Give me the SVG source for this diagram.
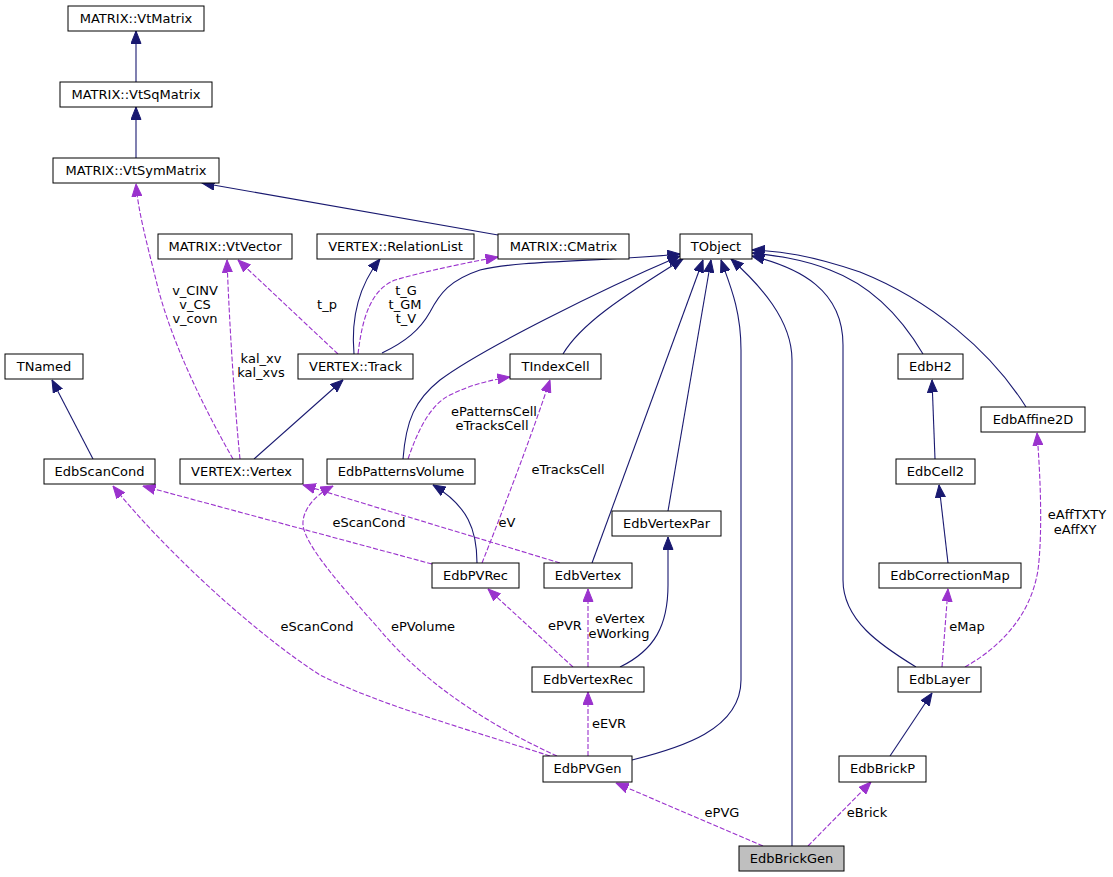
<svg xmlns="http://www.w3.org/2000/svg" width="1113" height="877" viewBox="0 0 1113 877">
<style>
  .node rect { fill: #ffffff; stroke: #000000; stroke-width: 1; }
  .node.cur rect { fill: #bfbfbf; }
  .node text, .lbl { font-family: "DejaVu Sans", "Liberation Sans", sans-serif; font-size: 13px; fill: #000000; text-anchor: middle; }
  .inh { fill: none; stroke: #191970; stroke-width: 1.1; marker-end: url(#ainh); }
  .use { fill: none; stroke: #9a32cd; stroke-width: 1.1; stroke-dasharray: 5,2; marker-end: url(#ause); }
</style>
<defs>
  <marker id="ainh" markerUnits="userSpaceOnUse" markerWidth="13" markerHeight="11" viewBox="0 0 13 11" refX="12.5" refY="5.5" orient="auto">
    <path d="M0,0.5 L12.5,5.5 L0,10.5 Z" fill="#191970" stroke="#191970" stroke-width="1"/>
  </marker>
  <marker id="ause" markerUnits="userSpaceOnUse" markerWidth="13" markerHeight="11" viewBox="0 0 13 11" refX="12.5" refY="5.5" orient="auto">
    <path d="M0,0.5 L12.5,5.5 L0,10.5 Z" fill="#9a32cd" stroke="#9a32cd" stroke-width="1"/>
  </marker>
</defs>
<rect x="0" y="0" width="1113" height="877" fill="#ffffff"/>

<g id="connectors">
  <path class="inh" d="M136,82 L136,31"/>
  <path class="inh" d="M136,158 L136,107"/>
  <path class="inh" d="M498,235 L202,183"/>
  <path class="inh" d="M354,354 C351,320 357,288 380,259"/>
  <path class="inh" d="M382,353 C405,342 420,330 430,312 C440,293 450,280 480,270 C520,260 600,262 680,254"/>
  <path class="use" d="M358,354 C362,320 370,290 395,280 C430,270 470,262 498,257"/>
  <path class="use" d="M338,354 L238,260"/>
  <path class="use" d="M233,459 C205,410 170,340 156,280 C146,240 138,210 136,184"/>
  <path class="use" d="M240,459 C236,420 230,340 227,260"/>
  <path class="inh" d="M254,459 L343,380"/>
  <path class="inh" d="M93,459 L52,380"/>
  <path class="inh" d="M403,459 C406,420 415,400 440,380 C480,350 600,290 680,256"/>
  <path class="use" d="M408,459 C418,430 430,405 450,395 C470,385 490,380 510,377"/>
  <path class="inh" d="M563,354 C580,325 620,298 683,259"/>
  <path class="inh" d="M477,563 C477,530 468,506 433,485"/>
  <path class="use" d="M482,563 C505,505 530,440 550,380"/>
  <path class="use" d="M432,564 L143,486"/>
  <path class="use" d="M560,563 L303,485"/>
  <path class="inh" d="M592,563 L703,260"/>
  <path class="inh" d="M668,511 L711,260"/>
  <path class="inh" d="M620,667 C655,650 668,625 668,585 L668,537"/>
  <path class="use" d="M573,667 L488,589"/>
  <path class="use" d="M588,667 L588,589"/>
  <path class="use" d="M588,756 L588,692"/>
  <path class="use" d="M550,756 C470,730 380,705 320,675 C250,630 160,545 113,486"/>
  <path class="use" d="M557,756 C500,730 430,690 380,630 C340,585 305,545 303,525 C302,510 315,495 333,486"/>
  <path class="inh" d="M632,760 C680,748 741,730 741,680 L741,350 C741,310 730,285 721,260"/>
  <path class="inh" d="M792,846 L792,360 C792,320 760,285 731,259"/>
  <path class="use" d="M763,846 L616,783"/>
  <path class="use" d="M808,846 L871,782"/>
  <path class="inh" d="M890,756 L932,693"/>
  <path class="inh" d="M916,667 C880,645 843,620 843,580 L843,345 C843,290 800,268 752,256"/>
  <path class="use" d="M942,667 L948,589"/>
  <path class="use" d="M965,667 C995,650 1030,620 1038,570 C1043,530 1040,470 1037,433"/>
  <path class="inh" d="M948,563 L939,485"/>
  <path class="inh" d="M935,459 L932,380"/>
  <path class="inh" d="M923,354 C900,315 870,285 830,270 C800,258 770,255 752,253"/>
  <path class="inh" d="M1026,407 C990,350 930,300 860,272 C810,255 780,251 752,250"/>

  <text class="lbl" x="195" y="295">v_CINV</text>
  <text class="lbl" x="195" y="309">v_CS</text>
  <text class="lbl" x="195" y="323">v_covn</text>
  <text class="lbl" x="327" y="309">t_p</text>
  <text class="lbl" x="406" y="295">t_G</text>
  <text class="lbl" x="405" y="309">t_GM</text>
  <text class="lbl" x="406" y="323">t_V</text>
  <text class="lbl" x="261" y="363">kal_xv</text>
  <text class="lbl" x="261" y="377">kal_xvs</text>
  <text class="lbl" x="494" y="416">ePatternsCell</text>
  <text class="lbl" x="492" y="430">eTracksCell</text>
  <text class="lbl" x="568" y="474">eTracksCell</text>
  <text class="lbl" x="369" y="527">eScanCond</text>
  <text class="lbl" x="507" y="527">eV</text>
  <text class="lbl" x="317" y="631">eScanCond</text>
  <text class="lbl" x="423" y="631">ePVolume</text>
  <text class="lbl" x="565" y="630">ePVR</text>
  <text class="lbl" x="620" y="623">eVertex</text>
  <text class="lbl" x="619" y="638">eWorking</text>
  <text class="lbl" x="609" y="728">eEVR</text>
  <text class="lbl" x="722" y="817">ePVG</text>
  <text class="lbl" x="867" y="817">eBrick</text>
  <text class="lbl" x="967" y="631">eMap</text>
  <text class="lbl" x="1077" y="519">eAffTXTY</text>
  <text class="lbl" x="1075" y="534">eAffXY</text>
</g>

<g id="MATRIX_VtMatrix" class="node"><rect x="68" y="6" width="136" height="25"/><text x="136" y="23">MATRIX::VtMatrix</text></g>
<g id="MATRIX_VtSqMatrix" class="node"><rect x="60" y="82" width="152" height="25"/><text x="136" y="99">MATRIX::VtSqMatrix</text></g>
<g id="MATRIX_VtSymMatrix" class="node"><rect x="53" y="158" width="166" height="25"/><text x="136" y="175">MATRIX::VtSymMatrix</text></g>
<g id="MATRIX_VtVector" class="node"><rect x="158" y="234" width="134" height="25"/><text x="225" y="251">MATRIX::VtVector</text></g>
<g id="VERTEX_RelationList" class="node"><rect x="317" y="234" width="157" height="25"/><text x="395.5" y="251">VERTEX::RelationList</text></g>
<g id="MATRIX_CMatrix" class="node"><rect x="498" y="234" width="131" height="25"/><text x="563.5" y="251">MATRIX::CMatrix</text></g>
<g id="TObject" class="node"><rect x="680" y="234" width="72" height="25"/><text x="716" y="251">TObject</text></g>
<g id="TNamed" class="node"><rect x="5" y="354" width="78" height="25"/><text x="44" y="371">TNamed</text></g>
<g id="VERTEX_Track" class="node"><rect x="298" y="354" width="115" height="25"/><text x="355.5" y="371">VERTEX::Track</text></g>
<g id="TIndexCell" class="node"><rect x="510" y="354" width="91" height="25"/><text x="555.5" y="371">TIndexCell</text></g>
<g id="EdbH2" class="node"><rect x="898" y="354" width="65" height="25"/><text x="930.5" y="371">EdbH2</text></g>
<g id="EdbAffine2D" class="node"><rect x="981" y="407" width="104" height="25"/><text x="1033" y="424">EdbAffine2D</text></g>
<g id="EdbScanCond" class="node"><rect x="44" y="459" width="111" height="25"/><text x="99.5" y="476">EdbScanCond</text></g>
<g id="VERTEX_Vertex" class="node"><rect x="180" y="459" width="123" height="25"/><text x="241.5" y="476">VERTEX::Vertex</text></g>
<g id="EdbPatternsVolume" class="node"><rect x="327" y="459" width="148" height="25"/><text x="401" y="476">EdbPatternsVolume</text></g>
<g id="EdbCell2" class="node"><rect x="896" y="459" width="79" height="25"/><text x="935.5" y="476">EdbCell2</text></g>
<g id="EdbVertexPar" class="node"><rect x="612" y="511" width="109" height="25"/><text x="666.5" y="528">EdbVertexPar</text></g>
<g id="EdbPVRec" class="node"><rect x="432" y="563" width="87" height="25"/><text x="475.5" y="580">EdbPVRec</text></g>
<g id="EdbVertex" class="node"><rect x="544" y="563" width="88" height="25"/><text x="588" y="580">EdbVertex</text></g>
<g id="EdbCorrectionMap" class="node"><rect x="879" y="563" width="142" height="25"/><text x="950" y="580">EdbCorrectionMap</text></g>
<g id="EdbVertexRec" class="node"><rect x="532" y="667" width="112" height="25"/><text x="588" y="684">EdbVertexRec</text></g>
<g id="EdbLayer" class="node"><rect x="898" y="667" width="83" height="25"/><text x="939.5" y="684">EdbLayer</text></g>
<g id="EdbPVGen" class="node"><rect x="543" y="756" width="89" height="26"/><text x="587.5" y="773">EdbPVGen</text></g>
<g id="EdbBrickP" class="node"><rect x="839" y="756" width="87" height="26"/><text x="882.5" y="773">EdbBrickP</text></g>
<g id="EdbBrickGen" class="node cur"><rect x="739" y="846" width="105" height="25"/><text x="791.5" y="863">EdbBrickGen</text></g>
</svg>
